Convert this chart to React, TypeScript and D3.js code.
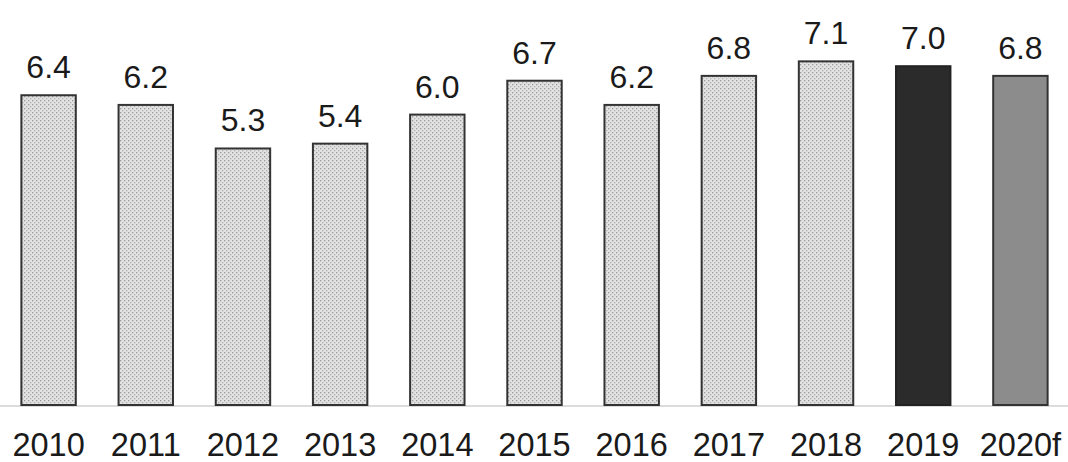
import React from "react";
import * as d3 from "d3";

const years = ["2010", "2011", "2012", "2013", "2014", "2015", "2016", "2017", "2018", "2019", "2020f"];
const values = [6.4, 6.2, 5.3, 5.4, 6.0, 6.7, 6.2, 6.8, 7.1, 7.0, 6.8];
const labels = ["6.4", "6.2", "5.3", "5.4", "6.0", "6.7", "6.2", "6.8", "7.1", "7.0", "6.8"];

const W = 1068;
const H = 462;

export default function App() {
  const x = d3.scaleBand<string>().domain(years).range([0, 1069]).paddingInner(0.44).paddingOuter(0.22);
  const y = d3.scaleLinear().domain([0, 7]).range([405, 405 - 7 * 48.4]);

  const fillFor = (i: number) => {
    if (years[i] === "2019") return "#2b2b2b";
    if (years[i] === "2020f") return "#8c8c8c";
    return "url(#dots)";
  };
  const strokeFor = (i: number) => (years[i] === "2019" ? "#222" : "#333");

  return (
    <svg width={W} height={H} style={{ position: "absolute", left: 0, top: 0, background: "#fff" }}>
      <defs>
        <pattern id="dots" width="4" height="4" patternUnits="userSpaceOnUse">
          <rect width="4" height="4" fill="#e2e2e2" />
          <rect x="0" y="0" width="1.3" height="1.3" fill="#9a9a9a" />
          <rect x="2" y="2" width="1.3" height="1.3" fill="#b0b0b0" />
        </pattern>
      </defs>
      <line x1={0} x2={W} y1={406} y2={406} stroke="#d0d0d0" strokeWidth={1.5} />
      {years.map((yr, i) => {
        const bx = x(yr)!;
        const bw = x.bandwidth();
        const top = y(values[i]);
        return (
          <g key={yr}>
            <rect x={bx} y={top} width={bw} height={y(0) - top} fill={fillFor(i)} stroke={strokeFor(i)} strokeWidth={2} />
            <text
              x={bx + bw / 2}
              y={top - 17}
              textAnchor="middle"
              fontFamily="Liberation Sans, Arial, sans-serif"
              fontSize={32}
              fill="#1a1a1a"
            >
              {labels[i]}
            </text>
            <text
              x={bx + bw / 2}
              y={456}
              textAnchor="middle"
              fontFamily="Liberation Sans, Arial, sans-serif"
              fontSize={32.5}
              fill="#1a1a1a"
            >
              {yr}
            </text>
          </g>
        );
      })}
    </svg>
  );
}
